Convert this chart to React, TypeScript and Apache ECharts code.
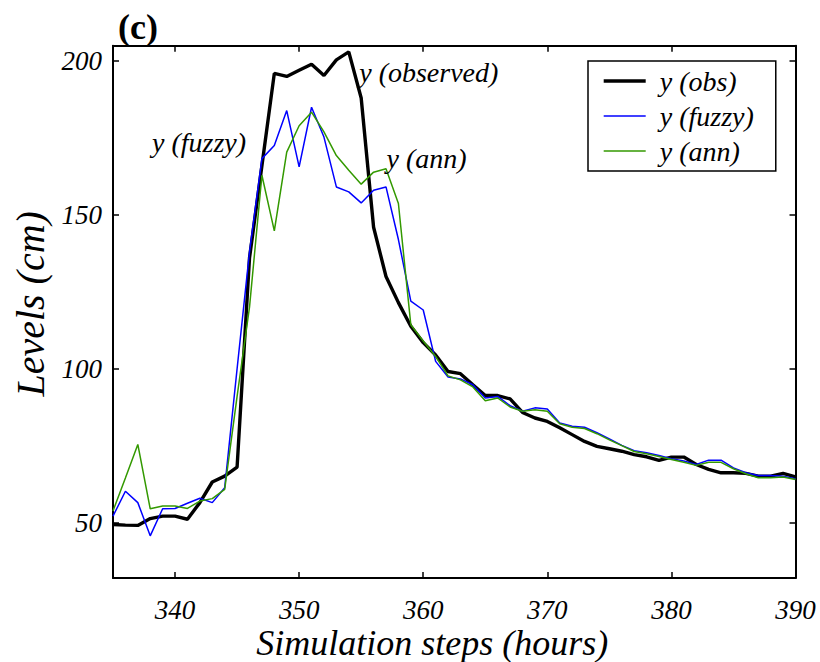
import React, { useEffect, useRef } from 'react';
import * as echarts from 'echarts';

const steps = [
  335, 336, 337, 338, 339, 340, 341, 342, 343, 344,
  345, 346, 347, 348, 349, 350, 351, 352, 353, 354,
  355, 356, 357, 358, 359, 360, 361, 362, 363, 364,
  365, 366, 367, 368, 369, 370, 371, 372, 373, 374,
  375, 376, 377, 378, 379, 380, 381, 382, 383, 384,
  385, 386, 387, 388, 389, 390,
];

const obsLevels = [
  49.4, 49.2, 49.1, 51.3, 52.1, 52.1, 51.1, 56.5, 63.2, 65.1,
  68.0, 136, 166, 196, 195, 197, 199, 195.3, 200.4, 203,
  188, 146, 130, 121.5, 113.8, 108.5, 104.5, 99.1, 98.4, 94.8,
  91.3, 91.3, 90.2, 85.8, 84.0, 82.9, 80.8, 78.6, 76.4, 74.8,
  74.0, 73.2, 72.1, 71.4, 70.2, 71.3, 71.3, 68.9, 67.3, 66.2,
  66.2, 66.0, 65.1, 65.1, 66.0, 64.9,
];

const fuzzyLevels = [
  52.1, 60.2, 56.5, 45.7, 54.5, 54.6, 56.3, 57.9, 56.5, 61.3,
  100, 138, 168.3, 172.6, 183.9, 165.6, 185, 175.3, 159.1, 157.5,
  153.9, 158, 159.1, 142, 122, 119.1, 102.4, 97.3, 96.7, 94.8,
  90.5, 91, 88, 86.2, 87.3, 86.9, 82.4, 81.3, 81, 79.2,
  77.2, 75.1, 73.4, 72.7, 71.8, 70.8, 70, 68.9, 70.3, 70.3,
  67.8, 66.2, 65.3, 65.3, 65.1, 64.3,
];

const annLevels = [
  53.8, 64.5, 75.4, 54.5, 55.4, 55.4, 54.6, 57, 57.8, 60.8,
  91, 120, 162.9, 144.8, 170.4, 179, 183.4, 177, 169.3, 164.5,
  160, 163.9, 165, 153.7, 114.3, 109, 104, 97.7, 96.4, 94.1,
  89.6, 90.5, 87.6, 86.2, 86.7, 86.2, 82.1, 81, 80.6, 78.9,
  76.9, 75, 73.1, 72.4, 71.5, 70.5, 69.6, 68.6, 69.6, 69.6,
  67.5, 65.9, 64.6, 64.6, 64.8, 64,
];

const seriesNames = ['y (obs)', 'y (fuzzy)', 'y (ann)'];
const seriesColors = ['#000000', '#0000ff', '#339900'];
const seriesWidths = [3.4, 1.5, 1.5];

const xTickLabels = [340, 350, 360, 370, 380, 390];
const yTickLabels = [50, 100, 150, 200];

const annotationTexts = ['y (observed)', 'y (fuzzy)', 'y (ann)'];
const annotationSteps = [354.8, 338.1, 357.0];
const annotationLevels = [196.2, 173.6, 168.5];

const FONT = '"Liberation Serif", "Times New Roman", serif';

function buildOption() {
  const pairs = (vals: number[]) => steps.map((s, i) => [s, vals[i]]);
  const levelsList = [obsLevels, fuzzyLevels, annLevels];

  const series: any[] = levelsList.map((vals, k) => ({
    name: seriesNames[k],
    type: 'line',
    data: pairs(vals),
    symbol: 'none',
    showSymbol: false,
    z: 2 + k,
    lineStyle: { color: seriesColors[k], width: seriesWidths[k] },
    itemStyle: { color: seriesColors[k] },
    emphasis: { disabled: true },
  }));

  series[0].markPoint = {
    silent: true,
    animation: false,
    symbol: 'circle',
    symbolSize: 1,
    itemStyle: { color: 'rgba(0,0,0,0)' },
    data: annotationTexts.map((t, i) => ({
      name: t,
      coord: [annotationSteps[i], annotationLevels[i]],
      label: {
        show: true,
        formatter: t,
        position: 'right',
        distance: 0,
        color: '#000',
        fontFamily: FONT,
        fontStyle: 'italic',
        fontSize: 28,
      },
    })),
  };

  const axisLine = { show: true, onZero: false, lineStyle: { color: '#000', width: 2 } };
  const axisTick = { show: true, inside: true, length: 6, lineStyle: { color: '#000', width: 1.5 } };
  const labelStyle = {
    color: '#000',
    fontFamily: FONT,
    fontStyle: 'italic',
    fontSize: 27,
  };

  return {
    animation: false,
    backgroundColor: '#ffffff',
    title: {
      text: '(c)',
      left: 118,
      top: 9,
      padding: 0,
      textStyle: { fontFamily: FONT, fontWeight: 'bold', fontSize: 36, color: '#000' },
    },
    legend: {
      data: seriesNames.map((n, k) => ({
        name: n,
        lineStyle: { color: seriesColors[k], width: seriesWidths[k] },
        itemStyle: { opacity: 0, borderWidth: 0 },
      })),
      orient: 'vertical',
      left: 588,
      top: 61,
      padding: [6, 22, 6, 14],
      itemWidth: 42,
      itemHeight: 14,
      itemGap: 7,
      borderColor: '#000',
      borderWidth: 1.5,
      backgroundColor: '#fff',
      selectedMode: false,
      itemStyle: { opacity: 0, borderWidth: 0 },
      textStyle: {
        color: '#000',
        fontFamily: FONT,
        fontStyle: 'italic',
        fontSize: 28,
        lineHeight: 26,
        padding: [0, 0, 0, 9],
      },
    },
    grid: {
      left: 113,
      right: 24.5,
      top: 45.7,
      bottom: 84,
      containLabel: false,
      outerBoundsMode: 'none',
    },
    xAxis: [
      {
        type: 'value',
        min: 335,
        max: 390,
        splitNumber: 5,
        position: 'bottom',
        axisLine,
        axisTick,
        splitLine: { show: false },
        axisLabel: {
          ...labelStyle,
          margin: 18,
          showMinLabel: false,
          formatter: (v: number) => (xTickLabels.includes(v) ? String(v) : ''),
        },
        name: 'Simulation steps (hours)',
        nameLocation: 'middle',
        nameMoveOverlap: false,
        nameGap: 47,
        nameTextStyle: {
          color: '#000',
          fontFamily: FONT,
          fontStyle: 'italic',
          fontSize: 36,
          lineHeight: 36,
          padding: [0, 44, 0, 0],
        },
      },
      {
        type: 'value',
        min: 335,
        max: 390,
        splitNumber: 5,
        position: 'top',
        axisLine,
        axisTick,
        splitLine: { show: false },
        axisLabel: { show: false },
      },
    ],
    yAxis: [
      {
        type: 'value',
        min: 32,
        max: 205,
        splitNumber: 3,
        position: 'left',
        axisLine,
        axisTick,
        splitLine: { show: false },
        axisLabel: {
          ...labelStyle,
          margin: 11,
          showMinLabel: false,
          showMaxLabel: false,
          formatter: (v: number) => (yTickLabels.includes(v) ? String(v) : ''),
        },
        name: 'Levels (cm)',
        nameLocation: 'middle',
        nameGap: 63,
        nameTextStyle: {
          color: '#000',
          fontFamily: FONT,
          fontStyle: 'italic',
          fontSize: 40,
          padding: [0, 0, 0, 16],
        },
      },
      {
        type: 'value',
        min: 32,
        max: 205,
        splitNumber: 3,
        position: 'right',
        axisLine,
        axisTick,
        splitLine: { show: false },
        axisLabel: { show: false },
      },
    ],
    series,
  };
}

export default function App() {
  const ref = useRef<HTMLDivElement>(null);
  useEffect(() => {
    if (!ref.current) return;
    const chart = echarts.init(ref.current, null, { renderer: 'svg' });
    chart.setOption(buildOption() as any);
    return () => {
      chart.dispose();
    };
  }, []);
  return (
    <div
      ref={ref}
      style={{ position: 'fixed', left: 0, top: 0, width: 820, height: 662, background: '#fff' }}
    />
  );
}
